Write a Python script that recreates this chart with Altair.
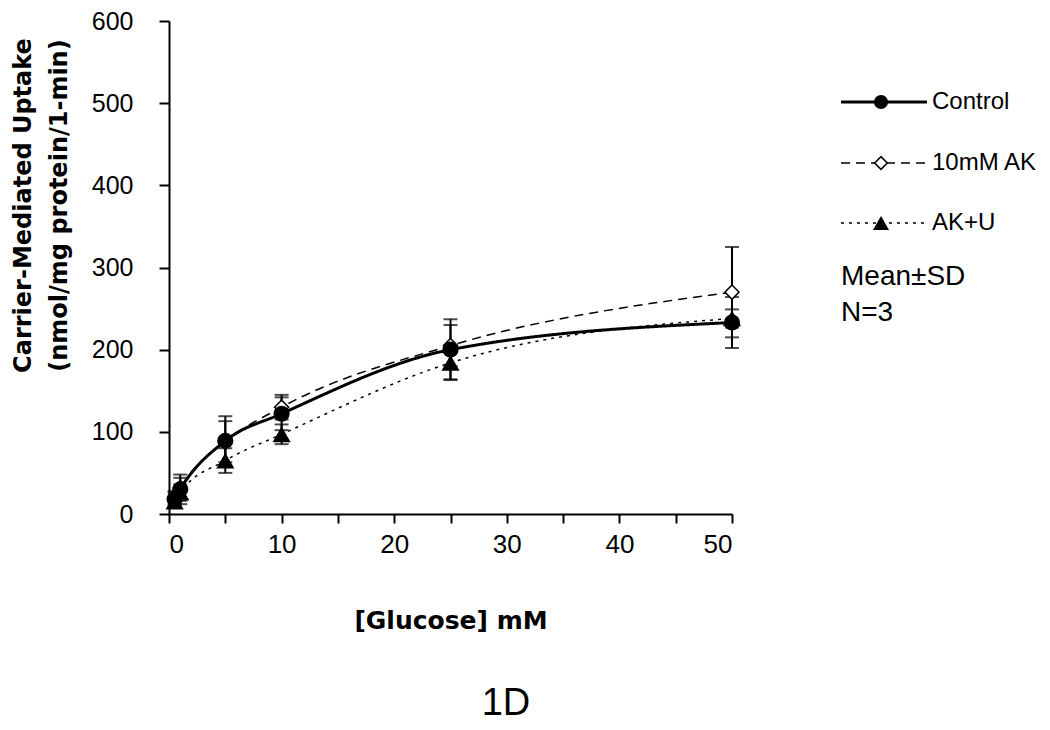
import altair as alt
import pandas as pd

# ---- data ----
glucose = [0.5, 1, 5, 10, 25, 50]
control_mean = [18, 30, 89, 122, 200, 233]
control_sd = [8, 18, 30, 20, 37, 31]
ak_mean = [20, 32, 88, 130, 205, 270]
ak_sd = [8, 12, 25, 15, 25, 55]
aku_mean = [15, 26, 65, 97, 184, 238]
aku_sd = [6, 10, 15, 12, 20, 11]

series_names = ["Control", "10mM AK", "AK+U"]
x_ticks = [0, 5, 10, 15, 20, 25, 30, 35, 40, 45, 50]
y_ticks = [0, 100, 200, 300, 400, 500, 600]
note_lines = ["Mean±SD", "N=3"]
panel_label = "1D"

FONT = "Liberation Sans"
TFONT = "DejaVu Sans"


def frame(name, means, sds):
    return pd.DataFrame({
        "series": name,
        "x": glucose,
        "y": means,
        "lo": [m - s for m, s in zip(means, sds)],
        "hi": [m + s for m, s in zip(means, sds)],
    })


df_c = frame(series_names[0], control_mean, control_sd)
df_a = frame(series_names[1], ak_mean, ak_sd)
df_u = frame(series_names[2], aku_mean, aku_sd)

xs = alt.Scale(domain=[0, 50], nice=False, zero=False)
ys = alt.Scale(domain=[0, 600], nice=False)

x_axis = alt.Axis(
    values=x_ticks, grid=False, tickSize=9, tickWidth=2, tickColor="black",
    domainColor="black", domainWidth=2,
    labelExpr="datum.value % 10 === 0 ? datum.label : ''",
    labelFont=FONT, labelFontSize=26, labelColor="black", labelPadding=8,
    title="[Glucose] mM", titleFont=TFONT, titleFontSize=25, titleFontWeight="bold",
    titleColor="black", titleBaseline="middle", titleY=106,
)
y_axis = alt.Axis(
    values=y_ticks, grid=False, tickSize=10, tickWidth=2, tickColor="black",
    domainColor="black", domainWidth=2,
    labelFont=FONT, labelFontSize=25, labelColor="black", labelPadding=26,
    title=["Carrier-Mediated Uptake", "(nmol/mg protein/1-min)"],
    titleFont=TFONT, titleFontSize=24, titleFontWeight="bold", titleColor="black",
    titleAngle=270, titleBaseline="top", titleAlign="center",
    titleX=-158, titleY=184, titleLineHeight=36,
)


def line_layer(df, dash, width):
    return alt.Chart(df).mark_line(
        interpolate="monotone", color="black", strokeDash=dash, strokeWidth=width
    ).encode(
        x=alt.X("x:Q", scale=xs, axis=x_axis),
        y=alt.Y("y:Q", scale=ys, axis=y_axis),
    )


def err_layers(df):
    rule = alt.Chart(df).mark_rule(color="black", strokeWidth=2).encode(
        x=alt.X("x:Q", scale=xs), y=alt.Y("lo:Q", scale=ys), y2="hi:Q"
    )
    cap_lo = alt.Chart(df).mark_tick(
        color="black", orient="horizontal", size=14, thickness=2
    ).encode(x=alt.X("x:Q", scale=xs), y=alt.Y("lo:Q", scale=ys))
    cap_hi = alt.Chart(df).mark_tick(
        color="black", orient="horizontal", size=14, thickness=2
    ).encode(x=alt.X("x:Q", scale=xs), y=alt.Y("hi:Q", scale=ys))
    return [rule, cap_lo, cap_hi]


pts_u = alt.Chart(df_u).mark_point(
    shape="triangle-up", filled=True, color="black", size=330, opacity=1
).encode(x=alt.X("x:Q", scale=xs), y=alt.Y("y:Q", scale=ys))
pts_a = alt.Chart(df_a).mark_point(
    shape="diamond", filled=True, fill="white", stroke="black", strokeWidth=1.5,
    size=200, opacity=1
).encode(x=alt.X("x:Q", scale=xs), y=alt.Y("y:Q", scale=ys))
pts_c = alt.Chart(df_c).mark_point(
    shape="circle", filled=True, color="black", size=260, opacity=1
).encode(x=alt.X("x:Q", scale=xs), y=alt.Y("y:Q", scale=ys))

# ---- legend (drawn) ----
leg_y = [81, 142, 202]
leg_x0, leg_x1, leg_mid, leg_tx = 672, 758, 712, 763
leg_dash = [[1, 0], [9, 6], [3, 5]]
leg_w = [3, 1.5, 1.5]
legend_layers = []
for i, name in enumerate(series_names):
    d = pd.DataFrame({"label": [name]})
    legend_layers.append(
        alt.Chart(d).mark_rule(color="black", strokeDash=leg_dash[i], strokeWidth=leg_w[i]).encode(
            x=alt.value(leg_x0), x2=alt.value(leg_x1), y=alt.value(leg_y[i])
        )
    )
    if i == 0:
        m = alt.Chart(d).mark_point(shape="circle", filled=True, color="black", size=200, opacity=1)
    elif i == 1:
        m = alt.Chart(d).mark_point(shape="diamond", filled=True, fill="white", stroke="black",
                                    strokeWidth=1.5, size=160, opacity=1)
    else:
        m = alt.Chart(d).mark_point(shape="triangle-up", filled=True, color="black", size=260, opacity=1)
    legend_layers.append(m.encode(x=alt.value(leg_mid), y=alt.value(leg_y[i])))
    legend_layers.append(
        alt.Chart(d).mark_text(font=FONT, fontSize=24, align="left", baseline="middle", color="black").encode(
            x=alt.value(leg_tx), y=alt.value(leg_y[i]), text="label:N"
        )
    )

note_y = [256, 292]
for i, t in enumerate(note_lines):
    d = pd.DataFrame({"label": [t]})
    legend_layers.append(
        alt.Chart(d).mark_text(font=FONT, fontSize=28, align="left", baseline="middle", color="black").encode(
            x=alt.value(672), y=alt.value(note_y[i]), text="label:N"
        )
    )

d_lab = pd.DataFrame({"label": [panel_label]})
label_layer = alt.Chart(d_lab).mark_text(
    font=FONT, fontSize=38, align="center", baseline="middle", color="black"
).encode(x=alt.value(337), y=alt.value(683), text="label:N")

layers = (
    [line_layer(df_u, [3, 5], 1.5), line_layer(df_a, [9, 6], 1.5), line_layer(df_c, [1, 0], 3)]
    + err_layers(df_u) + err_layers(df_a) + err_layers(df_c)
    + [pts_u, pts_a, pts_c]
    + legend_layers
    + [label_layer]
)

chart = alt.layer(*layers).properties(
    width=563,
    height=493,
    autosize=alt.AutoSizeParams(type="none"),
    padding={"left": 161, "top": 13, "right": 310, "bottom": 214},
    background="white",
).configure_view(stroke=None)

chart.save("out.html", embed_options={"renderer": "svg", "actions": False})
